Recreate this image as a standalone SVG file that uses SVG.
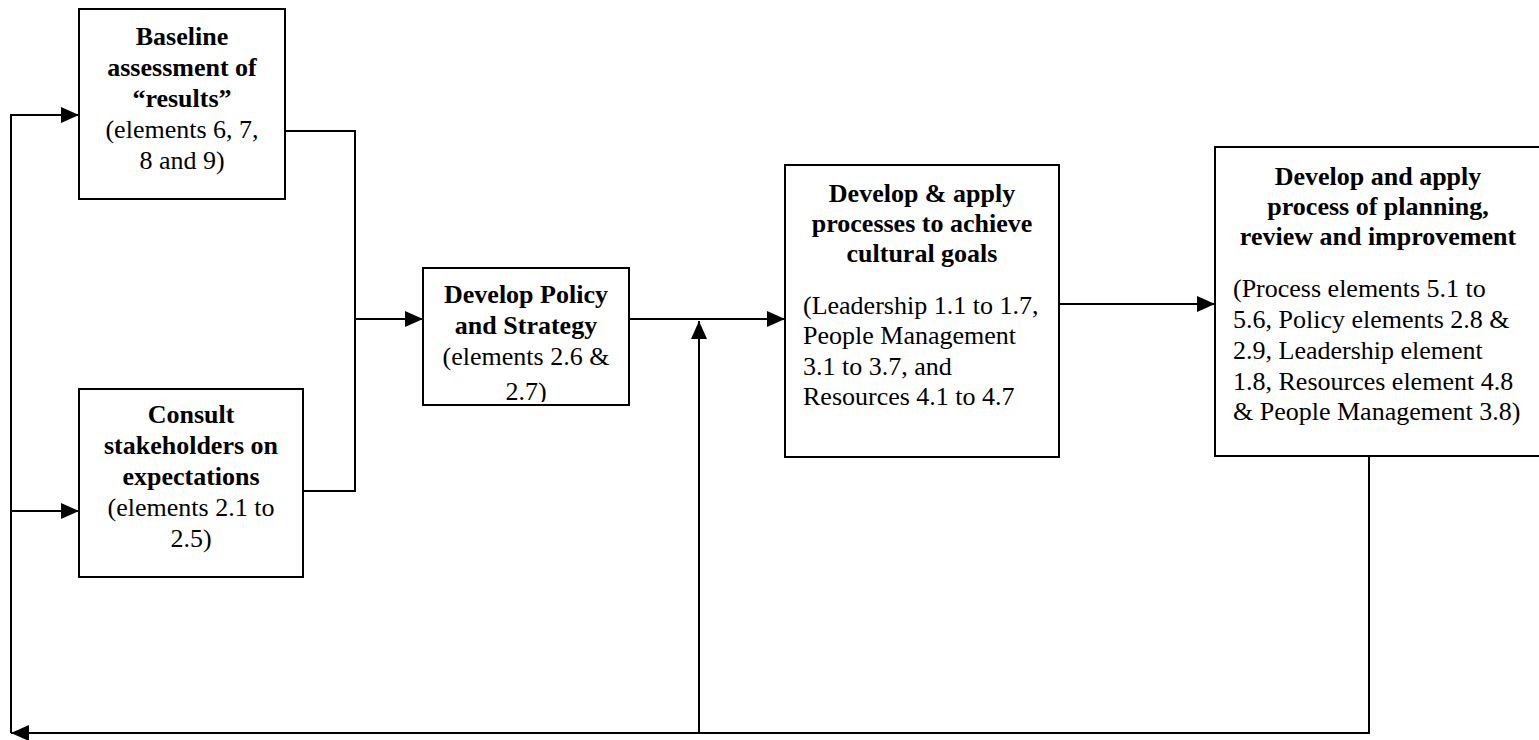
<svg xmlns="http://www.w3.org/2000/svg" width="1539" height="740" viewBox="0 0 1539 740">
<style>
.box{fill:#fff;stroke:#000;stroke-width:2}
.b{font-family:"Liberation Serif","Times New Roman",serif;font-size:26px;font-weight:bold;fill:#000;text-anchor:middle}
.r{font-family:"Liberation Serif","Times New Roman",serif;font-size:26px;fill:#000}
.rc{text-anchor:middle}
.ln{fill:none;stroke:#000;stroke-width:2}
</style>
<defs>
<marker id="ah" viewBox="0 0 18 16" refX="18" refY="8" markerWidth="18" markerHeight="16" orient="auto" markerUnits="userSpaceOnUse">
<path d="M0,0 L18,8 L0,16 z" fill="#000"/>
</marker>
<clipPath id="c3"><rect x="424" y="269" width="204" height="133"/></clipPath>
</defs>
<rect width="1539" height="740" fill="#fff"/>
<g id="connectors">
<path class="ln" d="M11,733 V115 H79" marker-end="url(#ah)"/>
<path class="ln" d="M11,511 H79" marker-end="url(#ah)"/>
<path class="ln" d="M1369,457 V733 H11" marker-end="url(#ah)"/>
<path class="ln" d="M699,733 V321" marker-end="url(#ah)"/>
<path class="ln" d="M285,131 H355 V491 H303"/>
<path class="ln" d="M355,319 H423" marker-end="url(#ah)"/>
<path class="ln" d="M629,319 H785" marker-end="url(#ah)"/>
<path class="ln" d="M1059,304 H1215" marker-end="url(#ah)"/>
</g>
<g id="baseline">
<rect class="box" x="79" y="9" width="206" height="190"/>
<text class="b" x="182" y="45">Baseline</text>
<text class="b" x="182" y="76">assessment of</text>
<text class="b" x="182" y="107">“results”</text>
<text class="r rc" x="182" y="138">(elements 6, 7,</text>
<text class="r rc" x="182" y="169">8 and 9)</text>
</g>
<g id="consult">
<rect class="box" x="79" y="389" width="224" height="188"/>
<text class="b" x="191" y="423">Consult</text>
<text class="b" x="191" y="454">stakeholders on</text>
<text class="b" x="191" y="485">expectations</text>
<text class="r rc" x="191" y="516">(elements 2.1 to</text>
<text class="r rc" x="191" y="547">2.5)</text>
</g>
<g id="policy">
<rect class="box" x="423" y="268" width="206" height="137"/>
<g clip-path="url(#c3)">
<text class="b" x="526" y="303">Develop Policy</text>
<text class="b" x="526" y="334">and Strategy</text>
<text class="r rc" x="526" y="365">(elements 2.6 &amp;</text>
<text class="r rc" x="526" y="400">2.7)</text>
</g>
</g>
<g id="processes">
<rect class="box" x="785" y="165" width="274" height="292"/>
<text class="b" x="922" y="202">Develop &amp; apply</text>
<text class="b" x="922" y="232">processes to achieve</text>
<text class="b" x="922" y="262">cultural goals</text>
<text class="r" x="803" y="314">(Leadership 1.1 to 1.7,</text>
<text class="r" x="803" y="344">People Management</text>
<text class="r" x="803" y="375">3.1 to 3.7, and</text>
<text class="r" x="803" y="405">Resources 4.1 to 4.7</text>
</g>
<g id="planning">
<rect class="box" x="1215" y="147" width="330" height="309"/>
<text class="b" x="1378" y="185">Develop and apply</text>
<text class="b" x="1378" y="215">process of planning,</text>
<text class="b" x="1378" y="245">review and improvement</text>
<text class="r" x="1233" y="297">(Process elements 5.1 to</text>
<text class="r" x="1233" y="328">5.6, Policy elements 2.8 &amp;</text>
<text class="r" x="1233" y="359">2.9, Leadership element</text>
<text class="r" x="1233" y="390">1.8, Resources element 4.8</text>
<text class="r" x="1233" y="420">&amp; People Management 3.8)</text>
</g>
</svg>
